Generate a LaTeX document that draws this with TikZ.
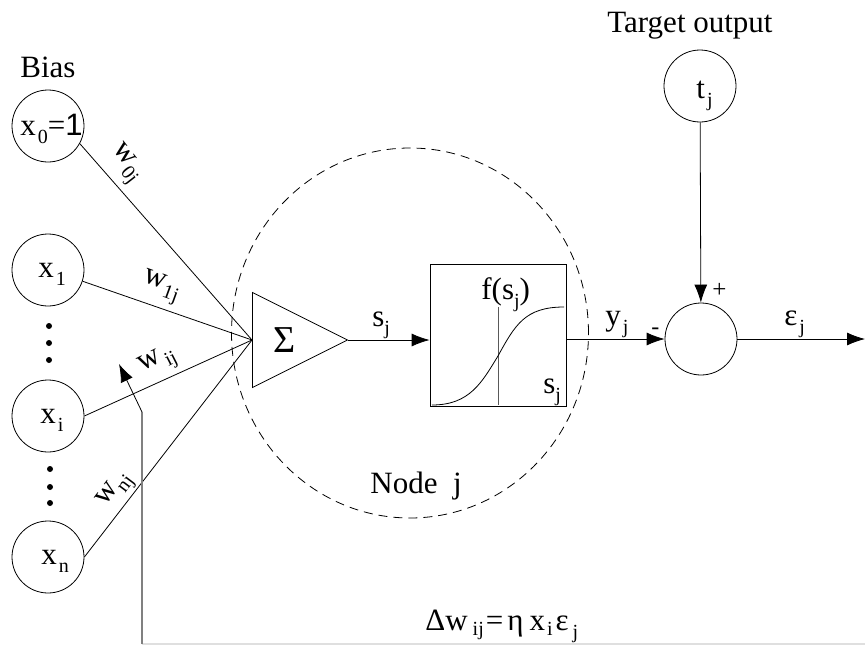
\documentclass[tikz,border=0pt]{standalone}
\usepackage{fontspec}
\setmainfont{Liberation Serif}
\newfontfamily\unitfont{Liberation Sans}
\usepackage{tikz}
\usetikzlibrary{arrows.meta,positioning,shapes.geometric}
\newcommand{\subfont}{\fontsize{20}{22}\selectfont}
\newcommand{\subtxt}[2]{#1\kern2pt\raisebox{-8pt}{\subfont #2}}

\begin{document}
\begin{tikzpicture}[
    x=1pt,
    y=-1pt,
    >={Latex[length=18pt,width=13pt]},
    line width=0.8pt,
    every node/.style={font=\fontsize{31}{34}\selectfont},
    input/.style={
        circle,
        draw=black,
        minimum size=72pt,
        inner sep=0pt
    },
    dotmark/.style={
        circle,
        fill=black,
        minimum size=6pt,
        inner sep=0pt
    },
    label/.style={inner sep=0pt, anchor=base west},
    weight/.style={inner sep=0pt},
    flow/.style={->, draw=black}
]
\useasboundingbox (0,0) rectangle (865,645);

\node[draw=black, dash pattern=on 9pt off 6pt, ellipse, minimum width=357pt, minimum height=370pt, inner sep=0pt] (nodej) at (410,333) {};

\node[input] (x0) at (48,126) {};
\node[input] (x1) at (48,270) {};
\node[input] (xi) at (48,416) {};
\node[input] (xn) at (48,557) {};
\node[input] (target) at (700,86) {};
\node[input] (error) at (701,339) {};

\node[label] (x0txt) at (20,135) {\subtxt{x}{0}={\unitfont 1}};
\node[label] (x1txt) at (38,277) {\subtxt{x}{1}};
\node[label] (xitxt) at (40,423) {\subtxt{x}{i}};
\node[label] (xntxt) at (41,564) {\subtxt{x}{n}};
\node[label] (tjtxt) at (696,98) {\subtxt{t}{j}};

\node[dotmark] (d1) at (49,326) {};
\node[dotmark] (d2) at (49,343) {};
\node[dotmark] (d3) at (49,360) {};
\node[dotmark] (d4) at (50,469) {};
\node[dotmark] (d5) at (50,487) {};
\node[dotmark] (d6) at (50,503) {};

\node[draw=black, isosceles triangle, isosceles triangle apex angle=54, isosceles triangle stretches, minimum width=95pt, minimum height=95pt, inner sep=0pt, anchor=lower side] (adder) at (252,340) {};
\node[font=\fontsize{38}{40}\selectfont, inner sep=0pt] (sigma) at (285,340) {Σ};

\node[draw=black, rectangle, minimum width=136pt, minimum height=142pt, inner sep=0pt] (activ) at (498,335) {};
\coordinate (axisT) at (498,307);
\coordinate (axisB) at (498,405);
\draw[gray!70!black] (axisT) -- (axisB);
\draw (432,405) .. controls (470,405) and (482,382) .. (498,356) .. controls (515,325) and (525,307) .. (564,307);
\node[label] (fs) at (481,299) {f(s\raisebox{-8pt}{\subfont j})};
\node[label] (sjbox) at (543,393) {s\raisebox{-8pt}{\subfont j}};

\coordinate (conv) at (252,340);
\draw (x0.-29) -- (conv);
\draw (x1.-18) -- (conv);
\draw (xi.0) -- (conv);
\draw (xn.0) -- (conv);

\draw[flow] (adder.apex) -- (activ.west |- adder.apex);
\draw[flow] (activ.east |- error) -- (error.west);
\draw[flow] (target) -- (error);
\coordinate (outend) at (865,339);
\draw[flow] (error) -- (outend);

\coordinate (fbA) at (865,644);
\coordinate (fbB) at (142,644);
\coordinate (fbC) at (142,412);
\coordinate (fbD) at (119,364);
\draw[gray!25, line width=1.2pt] (fbA) -- (fbB);
\draw[gray, line width=1.2pt] (fbB) -- (fbC);
\draw[flow] (fbC) -- (fbD);

\node[label] (bias) at (20,77) {Bias};
\node[label] (targetlbl) at (607,32) {Target output};
\node[weight, rotate=-52] (w0) at (125,164) {w\raisebox{-8pt}{\subfont 0j}};
\node[weight, rotate=-20] (w1) at (161,287) {w\raisebox{-8pt}{\subfont 1j}};
\node[weight, rotate=27] (wi) at (158,362) {w\raisebox{-8pt}{\subfont\,ij}};
\node[weight, rotate=53] (wn) at (116,491) {w\raisebox{-8pt}{\subfont nj}};
\node[label] (sj) at (372,326) {s\raisebox{-8pt}{\subfont j}};
\node[label] (yj) at (605,325) {\subtxt{y}{j}};
\node[label] (ej) at (784,325) {\subtxt{ε}{j}};
\node[label, font=\fontsize{25}{27}\selectfont] (plus) at (712,297) {+};
\node[label, font=\fontsize{24}{26}\selectfont] (minus) at (651,334) {-};
\node[label] (nodelbl) at (370,493) {Node\ \ j};
\node[label] (update) at (425,630) {Δw\kern5pt\raisebox{-5pt}{\subfont ij}\kern2pt=\kern4ptη\kern6ptx\kern2pt\raisebox{-5pt}{\subfont i}\kern3ptε\kern4pt\raisebox{-8pt}{\subfont j}};

\end{tikzpicture}
\end{document}
